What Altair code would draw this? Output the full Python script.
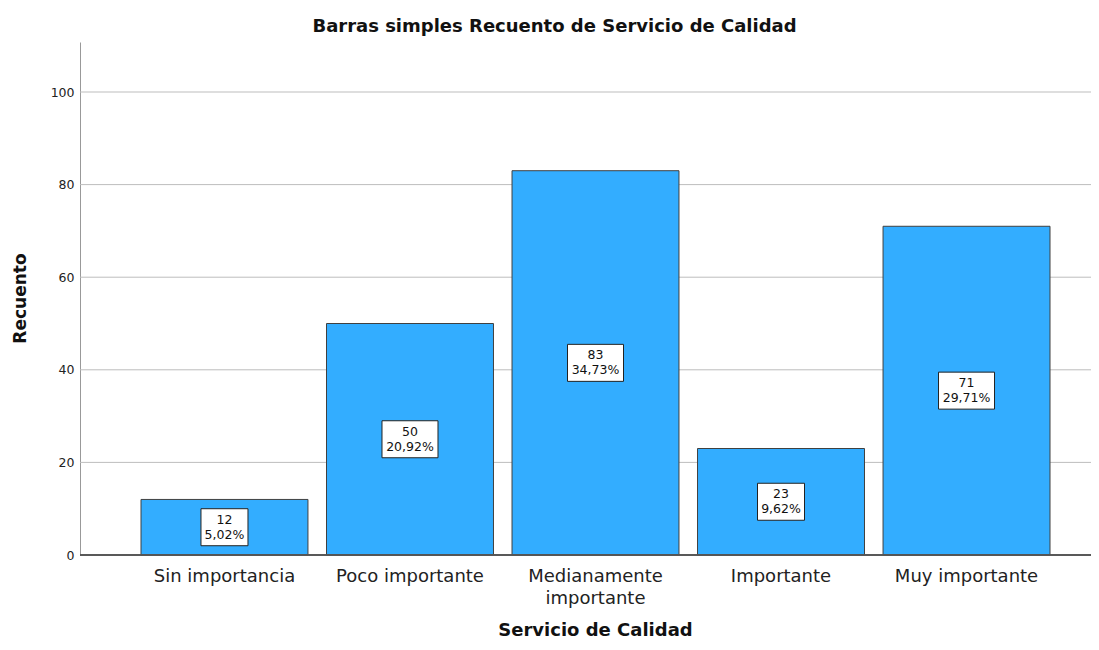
import altair as alt
import pandas as pd

categories = ["Sin importancia", "Poco importante", "Medianamente importante", "Importante", "Muy importante"]
counts = [12, 50, 83, 23, 71]
percents = ["5,02%", "20,92%", "34,73%", "9,62%", "29,71%"]
grid_values = [20, 40, 60, 80, 100]

df = pd.DataFrame({"cat": categories, "n": counts, "pct": percents})
df["mid"] = df["n"] / 2
df["label"] = df["n"].astype(str) + "\n" + df["pct"]
df["wide"] = df["pct"].str.len() > 5
grid_df = pd.DataFrame({"v": grid_values})

FONT = "DejaVu Sans"
W, H = 1011, 513

x_scale = alt.Scale(range=[61, 970], paddingInner=0.1, paddingOuter=0, round=False)
y_scale = alt.Scale(domain=[0, 110.8], nice=False)

x_enc = alt.X(
    "cat:N",
    sort=categories,
    scale=x_scale,
    axis=alt.Axis(
        title="Servicio de Calidad",
        titleFont=FONT, titleFontSize=18, titleFontWeight="bold", titleColor="#111",
        titleX=515, titleY=75, titleBaseline="middle",
        labelFont=FONT, labelFontSize=18, labelColor="#222", labelAngle=0,
        labelPadding=12, labelLineHeight=22,
        labelExpr="datum.label == 'Medianamente importante' ? ['Medianamente', 'importante'] : datum.label",
        ticks=False, domain=False, grid=False,
    ),
)

grid = alt.Chart(grid_df).mark_rule(color="#bdbdbd", strokeWidth=1).encode(
    y=alt.Y("v:Q", scale=y_scale),
    x=alt.value(0),
    x2=alt.value(W),
)

bars = alt.Chart(df).mark_bar(
    color="#33adff", stroke="#404040", strokeWidth=1
).encode(
    x=x_enc,
    y=alt.Y(
        "n:Q",
        scale=y_scale,
        axis=alt.Axis(
            title="Recuento", values=[0, 20, 40, 60, 80, 100],
            titleFont=FONT, titleFontSize=17, titleFontWeight="bold", titleColor="#111",
            titleAngle=-90, titleX=-60, titleY=256, titleBaseline="middle", titleAlign="center",
            labelFont=FONT, labelFontSize=12.5, labelColor="#222", labelPadding=6,
            ticks=False, domainColor="#999", domainWidth=1, grid=False,
        ),
    ),
)

baseline = alt.Chart(grid_df).mark_rule(color="#555", strokeWidth=1).encode(
    y=alt.value(H),
    x=alt.value(0),
    x2=alt.value(W),
)

def box(wide, w):
    return alt.Chart(df).transform_filter(
        alt.datum.wide == wide
    ).mark_bar(
        width=w, color="white", stroke="#222", strokeWidth=1, yOffset=-18.5, y2Offset=18.5
    ).encode(
        x=alt.X("cat:N", sort=categories, scale=x_scale),
        y=alt.Y("mid:Q", scale=y_scale),
        y2="mid:Q",
    )

texts = alt.Chart(df).mark_text(
    font=FONT, fontSize=12.5, color="#111", lineBreak="\n", lineHeight=15,
    baseline="middle", align="center", dy=-7.5
).encode(
    x=alt.X("cat:N", sort=categories, scale=x_scale),
    y=alt.Y("mid:Q", scale=y_scale),
    text="label:N",
)

chart = alt.layer(grid, bars, baseline, box(False, 47), box(True, 56), texts).properties(
    width=W,
    height=H,
    background="white",
    autosize=alt.AutoSizeParams(type="none"),
    padding={"left": 72, "top": 34, "right": 0, "bottom": 87},
    title=alt.TitleParams(
        "Barras simples Recuento de Servicio de Calidad",
        font=FONT, fontSize=18, fontWeight="bold", color="#111",
        anchor="middle", frame="group", dx=-31, offset=6,
    ),
).configure_view(strokeWidth=0, stroke="transparent")

chart.save("out.html", embed_options={"renderer": "svg", "actions": False})
